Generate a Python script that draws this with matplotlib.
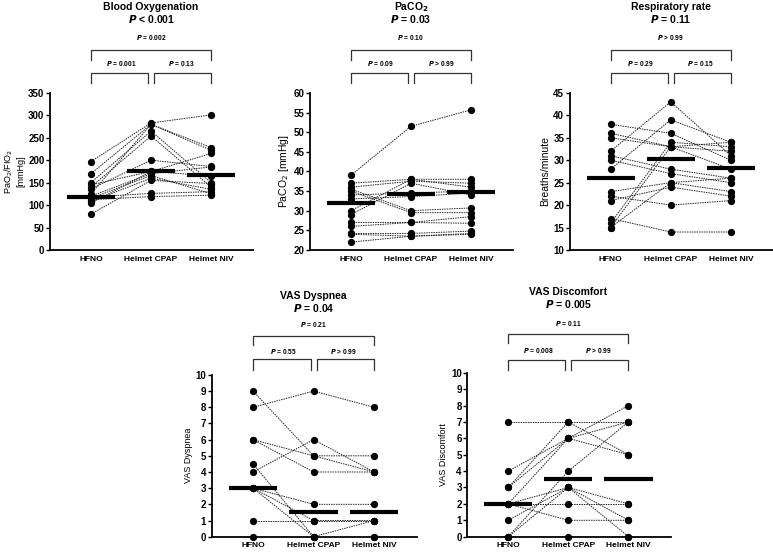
import matplotlib
matplotlib.use("Agg")
import matplotlib.pyplot as plt

plt.rcParams['font.family'] = ['Liberation Sans', 'DejaVu Sans']

groups = ['HFNO', 'Helmet CPAP', 'Helmet NIV']

# Blood oxygenation (PaO2/FIO2)
hfno_pf = [197, 170, 150, 145, 140, 136, 125, 120, 118, 115, 112, 108, 104, 80]
cpap_pf = [283, 280, 265, 175, 254, 200, 280, 170, 126, 166, 119, 160, 175, 155]
niv_pf = [301, 228, 150, 215, 140, 186, 222, 185, 130, 125, 122, 135, 165, 148]
med_pf = [119, 175, 166]

# PaCO2
hfno_co2 = [39, 37, 36, 35.5, 35, 34, 30, 29, 27, 26, 24.2, 24, 22, 33]
cpap_co2 = [51.5, 38, 37.5, 30, 29.5, 34.5, 38, 37, 27, 27, 24.2, 23.5, 23.5, 33.6]
niv_co2 = [55.7, 36, 37, 30.7, 29.5, 35, 38, 34, 28.5, 26.8, 24.8, 24.2, 24, 34.5]
med_co2 = [32, 34.2, 34.8]

# Respiratory rate
hfno_rr = [38, 36, 35, 32, 31, 30, 28, 23, 22, 21, 17, 16, 15, 15]
cpap_rr = [36, 33, 33, 43, 28, 27, 39, 25, 20, 24, 14, 34, 33, 25]
niv_rr = [30, 28, 32, 31, 26, 25, 34, 23, 21, 22, 14, 33, 34, 26]
med_rr = [26, 30.2, 28.2]

# VAS dyspnea
hfno_dys = [9, 8, 6, 6, 4, 4.5, 3, 3, 1, 0, 3]
cpap_dys = [5, 9, 5, 4, 6, 0, 2, 0, 1, 0, 1]
niv_dys = [4, 8, 5, 4, 4, 1, 2, 0, 1, 0, 1]
med_dys = [3, 1.5, 1.5]

# VAS discomfort
hfno_dis = [7, 4, 3, 3, 2, 0, 0, 2, 1, 2, 2, 0]
cpap_dis = [7, 6, 7, 6, 6, 4, 3, 3, 3, 2, 1, 0]
niv_dis = [7, 8, 5, 7, 5, 7, 0, 2, 1, 2, 1, 0]
med_dis = [2, 3.5, 3.5]

panels = [
    dict(rect=[0.0647, 0.548, 0.263, 0.284], data=(hfno_pf, cpap_pf, niv_pf), med=med_pf,
         ylim=(0, 350), ticks=range(0, 351, 50), ylabel='PaO$_2$/FIO$_2$\n[mmHg]', ylsize=6.5,
         title='Blood Oxygenation', ptitle='$\\mathbfit{P}$ < 0.001',
         p=['P = 0.001', 'P = 0.13', 'P = 0.002'], geo=(1.548, 1.471, 1.350, 1.274, 1.210, 1.185, 1.127, 1.064)),
    dict(rect=[0.401, 0.548, 0.263, 0.284], data=(hfno_co2, cpap_co2, niv_co2), med=med_co2,
         ylim=(20, 60), ticks=range(20, 61, 5), ylabel='PaCO$_2$ [mmHg]', ylsize=7.5,
         title='PaCO$_\\mathbf{2}$', ptitle='$\\mathbfit{P}$ = 0.03',
         p=['P = 0.09', 'P > 0.99', 'P = 0.10'], geo=(1.548, 1.471, 1.350, 1.274, 1.210, 1.185, 1.127, 1.064)),
    dict(rect=[0.737, 0.548, 0.263, 0.284], data=(hfno_rr, cpap_rr, niv_rr), med=med_rr,
         ylim=(10, 45), ticks=range(10, 46, 5), ylabel='Breaths/minute', ylsize=7.5,
         title='Respiratory rate', ptitle='$\\mathbfit{P}$ = 0.11',
         p=['P = 0.29', 'P = 0.15', 'P > 0.99'], geo=(1.548, 1.471, 1.350, 1.274, 1.210, 1.185, 1.127, 1.064)),
    dict(rect=[0.274, 0.0295, 0.265, 0.2925], data=(hfno_dys, cpap_dys, niv_dys), med=med_dys,
         ylim=(0, 10), ticks=range(0, 11), ylabel='VAS Dyspnea', ylsize=6.5,
         title='VAS Dyspnea', ptitle='$\\mathbfit{P}$ = 0.04',
         p=['P = 0.55', 'P > 0.99', 'P = 0.21'], geo=(1.49, 1.415, 1.309, 1.241, 1.185, 1.144, 1.099, 1.031)),
    dict(rect=[0.6045, 0.0295, 0.263, 0.2965], data=(hfno_dis, cpap_dis, niv_dis), med=med_dis,
         ylim=(0, 10), ticks=range(0, 11), ylabel='VAS Discomfort', ylsize=6.5,
         title='VAS Discomfort', ptitle='$\\mathbfit{P}$ = 0.005',
         p=['P = 0.008', 'P > 0.99', 'P = 0.11'], geo=(1.49, 1.42, 1.299, 1.238, 1.181, 1.135, 1.080, 1.018)),
]

fig = plt.figure(figsize=(7.73, 5.53), dpi=100)

for pn in panels:
    ax = fig.add_axes(pn['rect'])
    a, b, c = pn['data']
    for y0, y1, y2 in zip(a, b, c):
        ax.plot([0, 1, 2], [y0, y1, y2], color='#222222', lw=0.7, ls=(0, (1.5, 1)),
                marker='o', ms=4.2, mfc='black', mec='black', clip_on=False, zorder=3)
    for i, m in enumerate(pn['med']):
        ax.plot([i - 0.4, i + 0.4], [m, m], color='black', lw=3, solid_capstyle='butt', zorder=4)
    ax.set_xlim(-0.68, 2.70)
    ax.set_ylim(*pn['ylim'])
    ax.set_yticks(list(pn['ticks']))
    ax.set_xticks([0, 1, 2])
    ax.set_xticklabels(groups, fontsize=6, fontweight='bold')
    for lab in ax.get_yticklabels():
        lab.set_fontweight('bold')
        lab.set_fontsize(7)
    ax.tick_params(axis='y', length=3, width=1, pad=1)
    ax.tick_params(axis='x', length=0, pad=4)
    for s in ['top', 'right']:
        ax.spines[s].set_visible(False)
    for s in ['left', 'bottom']:
        ax.spines[s].set_linewidth(1.3)
    ax.set_ylabel(pn['ylabel'], fontsize=pn['ylsize'], labelpad=2)

    tr = ax.get_xaxis_transform()
    t1, t2, tp, bt, be, sp, st, se = pn['geo']
    ax.text(1, t1, pn['title'], transform=tr, ha='center', va='center', fontsize=7.5, fontweight='bold')
    ax.text(1, t2, pn['ptitle'], transform=tr, ha='center', va='center', fontsize=7.5, fontweight='bold')
    kw = dict(color='#333333', lw=0.9, clip_on=False, transform=tr)
    ax.plot([0, 0, 2, 2], [be, bt, bt, be], **kw)
    ax.plot([0, 0, 0.95, 0.95], [se, st, st, se], **kw)
    ax.plot([1.05, 1.05, 2, 2], [se, st, st, se], **kw)
    for x, y, s in [(0.5, sp, pn['p'][0]), (1.5, sp, pn['p'][1]), (1, tp, pn['p'][2])]:
        ax.text(x, y, '$\\mathbfit{P}$' + s[1:], transform=tr, ha='center', va='center',
                fontsize=4.8, fontweight='bold')

fig.savefig('out.png', dpi=100)
